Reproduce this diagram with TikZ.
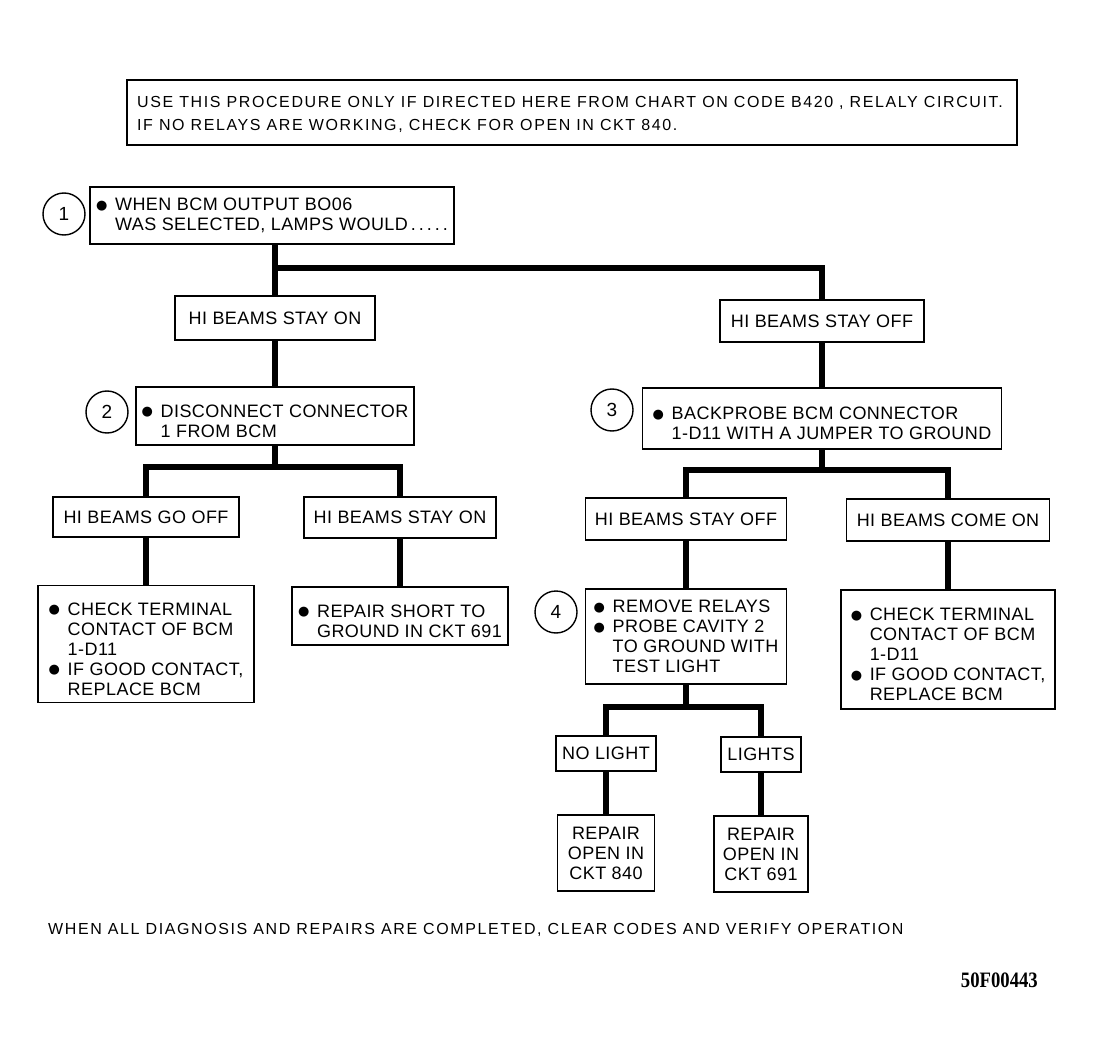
\documentclass[tikz,border=0pt]{standalone}
\usepackage{fontspec}
\setmainfont[LetterSpace=2.5]{Liberation Sans}
\newfontfamily\notefont[LetterSpace=10]{Liberation Sans}
\newfontfamily\codefont[FakeStretch=0.85]{Liberation Serif}
\newfontfamily\symfont{DejaVu Sans}
\newcommand\bl{\makebox[19pt][l]{\raisebox{1.5pt}{\symfont\fontsize{13}{12}\selectfont ●}}}
\newcommand\ind{\hspace*{19pt}}
\newcommand\dn{\rule{0pt}{23pt}}
\begin{document}
\begin{tikzpicture}[x=1pt,y=-1pt,
  box/.style={draw, line width=1.6pt, align=left, inner sep=0pt, font=\fontsize{18}{20}\selectfont},
  cbox/.style={box, align=center},
  conn/.style={line width=6pt},
  num/.style={draw, circle, line width=1.4pt, minimum size=42pt, inner sep=0pt, font=\fontsize{19}{20}\selectfont},
  note/.style={inner sep=0pt, anchor=base west, font=\notefont\fontsize{16}{23}\selectfont, align=left},
]
\useasboundingbox (0,0) rectangle (1096,1062);

% header
\node[draw, line width=1.6pt, minimum width=890pt, minimum height=65pt, inner sep=0pt] (top) at (572,112.5) {};
\node[note, anchor=north west] (toptext) at (137,96) {USE THIS PROCEDURE ONLY IF DIRECTED HERE FROM CHART ON CODE B420 , RELALY CIRCUIT.\\IF NO RELAYS ARE WORKING, CHECK FOR OPEN IN CKT 840.};

% step 1
\node[box, minimum width=364pt, minimum height=57pt] (b1) at (272,215.5) {\bl WHEN BCM OUTPUT BO06\\\ind WAS SELECTED, LAMPS WOULD\,.\,.\,.\,.\,.};
\node[num] (n1) at (64,214) {1};
\node[cbox, minimum width=200pt, minimum height=44pt] (hbso1) at (275,318) {HI BEAMS STAY ON};
\node[cbox, minimum width=204pt, minimum height=42pt] (hbsoff1) at (822,321) {HI BEAMS STAY OFF};

% step 2
\node[box, minimum width=278pt, minimum height=58pt] (b2) at (275,416) {\dn\bl DISCONNECT CONNECTOR\\\ind 1 FROM BCM};
\node[num] (n2) at (107,412) {2};
\node[cbox, minimum width=186pt, minimum height=40pt] (gooff) at (146,517) {HI BEAMS GO OFF};
\node[cbox, minimum width=192pt, minimum height=41pt] (stayon2) at (400,517.5) {HI BEAMS STAY ON};
\node[box, minimum width=216pt, minimum height=117pt] (checkl) at (146,644) {\dn\bl CHECK TERMINAL\\\ind CONTACT OF BCM\\\ind 1-D11\\\bl IF GOOD CONTACT,\\\ind REPLACE BCM};
\node[box, minimum width=216pt, minimum height=58pt] (short) at (400,616) {\dn\bl REPAIR SHORT TO\\\ind GROUND IN CKT 691};

% step 3
\node[box, minimum width=359pt, minimum height=61pt] (b3) at (822,418.5) {\dn\bl BACKPROBE BCM CONNECTOR\\\ind 1-D11 WITH A JUMPER TO GROUND};
\node[num] (n3) at (612,410) {3};
\node[cbox, minimum width=201pt, minimum height=42pt] (stayoff2) at (686,519) {HI BEAMS STAY OFF};
\node[cbox, minimum width=203pt, minimum height=42pt] (comeon) at (948,520) {HI BEAMS COME ON};
\node[box, minimum width=214pt, minimum height=119pt] (checkr) at (948,649.5) {\dn\bl CHECK TERMINAL\\\ind CONTACT OF BCM\\\ind 1-D11\\\bl IF GOOD CONTACT,\\\ind REPLACE BCM};

% step 4
\node[box, minimum width=201pt, minimum height=95pt] (b4) at (686,636.5) {\bl REMOVE RELAYS\\\bl PROBE CAVITY 2\\\ind TO GROUND WITH\\\ind TEST LIGHT};
\node[num] (n4) at (556,612) {4};
\node[cbox, minimum width=100pt, minimum height=35pt] (nolight) at (606,753.5) {NO LIGHT};
\node[cbox, minimum width=80pt, minimum height=35pt] (lights) at (761,754.5) {LIGHTS};
\node[cbox, minimum width=97pt, minimum height=76pt] (r840) at (606,853) {REPAIR\\OPEN IN\\CKT 840};
\node[cbox, minimum width=94pt, minimum height=76pt] (r691) at (761,854) {REPAIR\\OPEN IN\\CKT 691};

% junctions
\coordinate (j1) at (275,268);
\coordinate (j2) at (275,467);
\coordinate (j3) at (822,470);
\coordinate (j4) at (686,707);

% connectors
\draw[conn] (b1.south -| j1) -- (hbso1.north);
\draw[conn] (j1) -| (hbsoff1.north);
\draw[conn] (hbso1) -- (b2);
\draw[conn] (b2.south) -- (j2);
\draw[conn] (gooff.north) |- (j2) -| (stayon2.north);
\draw[conn] (gooff) -- (checkl);
\draw[conn] (stayon2) -- (short);
\draw[conn] (hbsoff1) -- (b3);
\draw[conn] (b3.south) -- (j3);
\draw[conn] (stayoff2.north) |- (j3) -| (comeon.north);
\draw[conn] (stayoff2) -- (b4);
\draw[conn] (comeon) -- (checkr);
\draw[conn] (b4.south) -- (j4);
\draw[conn] (nolight.north) |- (j4) -| (lights.north);
\draw[conn] (nolight) -- (r840);
\draw[conn] (lights) -- (r691);

% footer
\node[note] (foot) at (48,934) {WHEN ALL DIAGNOSIS AND REPAIRS ARE COMPLETED, CLEAR CODES AND VERIFY OPERATION};
\node[inner sep=0pt, anchor=base east, font=\codefont\bfseries\fontsize{22}{24}\selectfont] (code) at (1038,987) {50F00443};
\end{tikzpicture}
\end{document}
